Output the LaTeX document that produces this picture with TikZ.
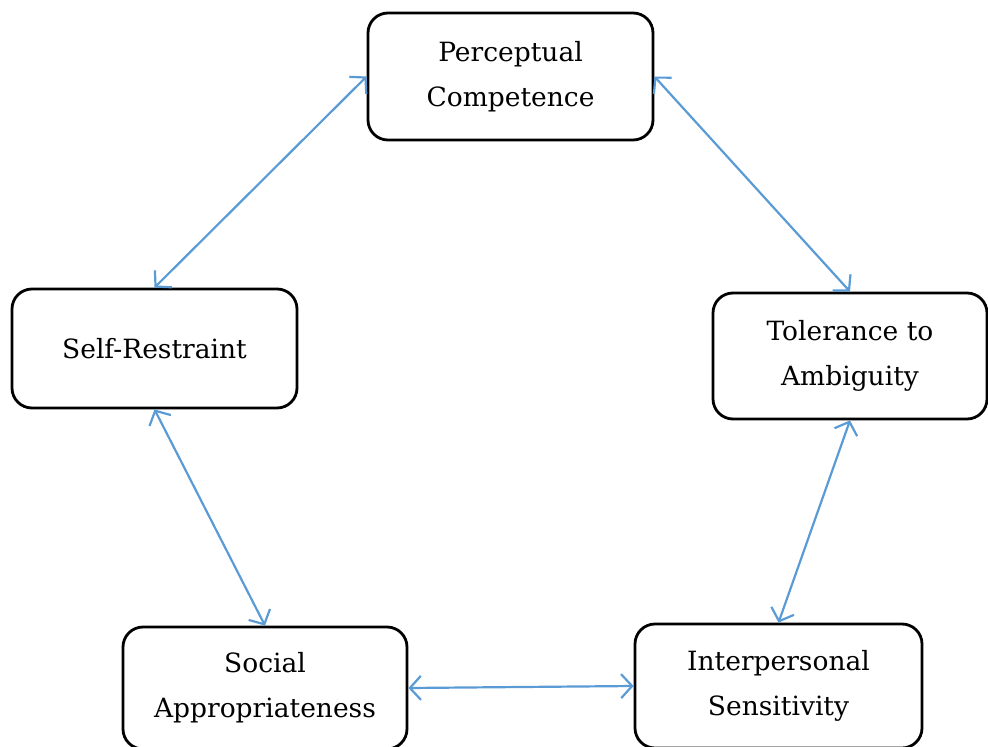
\documentclass[tikz,border=0pt]{standalone}
\usepackage{fontspec}
\setmainfont{DejaVu Serif}
\usetikzlibrary{arrows.meta}
\definecolor{linkblue}{HTML}{5B9BD5}
\begin{document}
\begin{tikzpicture}[x=1pt,y=-1pt,
  box/.style={draw=black, line width=2.8pt, rounded corners=20pt, fill=white,
    align=center, inner sep=0pt, font=\fontsize{26.5}{45}\selectfont},
  link/.style={draw=linkblue, line width=2.2pt,
    {Straight Barb[length=11pt,width=24pt]}-{Straight Barb[length=11pt,width=24pt]}}]
\useasboundingbox (0,0) rectangle (988,747);
\clip (0,0) rectangle (988,747);
\node[box, minimum width=285pt, minimum height=127pt] (pc) at (510.5,76.5) {Perceptual\\Competence};
\node[box, minimum width=285pt, minimum height=119pt] (sr) at (154.5,348.5) {Self-Restraint};
\node[box, minimum width=274pt, minimum height=126pt] (ta) at (850,356) {Tolerance to\\Ambiguity};
\node[box, minimum width=284pt, minimum height=122pt] (sa) at (265,688) {Social\\Appropriateness};
\node[box, minimum width=287pt, minimum height=124pt] (is) at (778.5,686) {Interpersonal\\Sensitivity};
\draw[link] (pc.west) -- (sr.north);
\draw[link] (pc.east) -- (ta.north);
\draw[link] (sr.south) -- (sa.north);
\draw[link] (ta.south) -- (is.north);
\draw[link] (sa.east) -- (is.west);
\end{tikzpicture}
\end{document}
